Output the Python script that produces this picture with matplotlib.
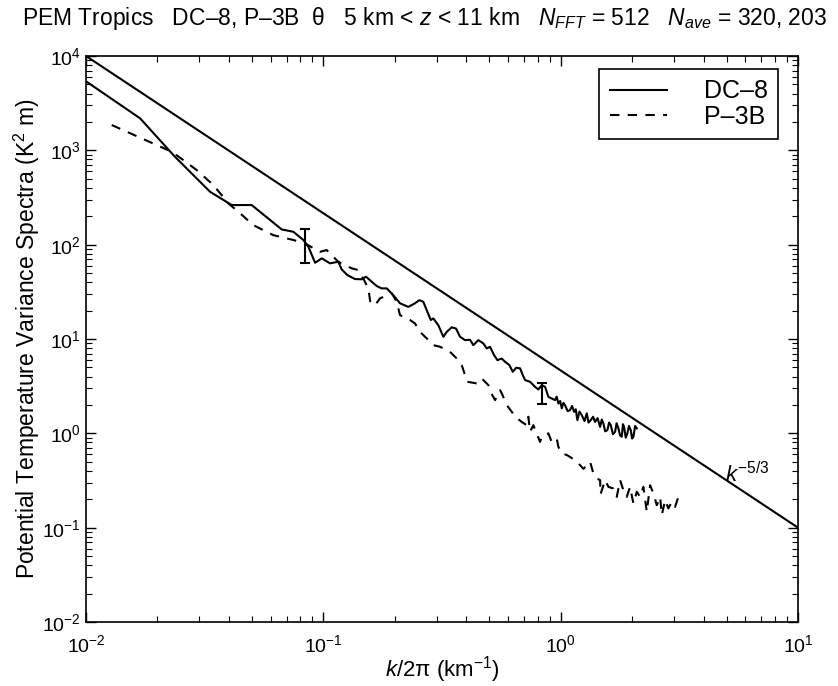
import matplotlib
matplotlib.use("Agg")
import matplotlib.pyplot as plt
import numpy as np

plt.rcParams['font.family'] = ['Liberation Sans', 'DejaVu Sans']
plt.rcParams['mathtext.fontset'] = 'custom'
plt.rcParams['mathtext.rm'] = 'Liberation Sans'
plt.rcParams['mathtext.it'] = 'Liberation Sans:italic'
plt.rcParams['mathtext.bf'] = 'Liberation Sans:bold'

# DC-8 spectrum
dc8_k = [0.0101, 0.0169, 0.0237, 0.0333, 0.0411, 0.0499, 0.0668, 0.0748, 0.0824, 0.0865,
         0.0923, 0.0985, 0.1066, 0.1156, 0.1195, 0.1262, 0.136, 0.1452, 0.1514, 0.160,
         0.168, 0.176, 0.185, 0.197, 0.2104, 0.228, 0.2433, 0.2538, 0.2638, 0.2744,
         0.2836, 0.2908, 0.3052, 0.3204, 0.3311, 0.3476, 0.3624, 0.3768, 0.3955, 0.415,
         0.4286, 0.4499, 0.4723, 0.4882, 0.504, 0.524, 0.5413, 0.5648, 0.5831, 0.6079,
         0.6284, 0.6488, 0.6745, 0.6923, 0.708, 0.743, 0.78, 0.805, 0.8325, 0.86,
         0.8875, 0.917, 0.947, 0.962, 0.978, 0.995, 1.011, 1.027, 1.043, 1.07,
         1.095, 1.117, 1.139, 1.158, 1.176, 1.2, 1.227, 1.26, 1.288, 1.31,
         1.339, 1.37, 1.396, 1.43, 1.466, 1.49, 1.514, 1.54, 1.573, 1.6,
         1.626, 1.66, 1.696, 1.72, 1.751, 1.78, 1.809, 1.83, 1.85, 1.88,
         1.91, 1.94, 1.974, 2.0, 2.025, 2.06, 2.093]
dc8_spec = [5300, 2185, 855, 364, 263, 263, 145, 137, 112, 95,
            64.3, 71.6, 63.4, 65.9, 54.7, 47.6, 43.2, 43.0, 45.7, 40.4,
            36.4, 34.4, 34.4, 29.2, 23.9, 21.9, 23.9, 25.8, 24.8, 19.4,
            15.9, 16.5, 14.0, 10.55, 11.9, 13.3, 12.9, 10.55, 9.73, 9.8,
            8.6, 9.73, 8.98, 7.95, 8.25, 6.75, 5.97, 6.2, 5.73, 5.29,
            4.49, 4.95, 4.89, 4.14, 3.67, 3.52, 3.11, 2.92, 3.24, 3.11,
            2.44, 2.34, 2.25, 2.45, 2.07, 2.2, 1.84, 2.1, 1.99, 1.72,
            1.76, 1.95, 1.69, 1.8, 1.38, 1.7, 1.56, 1.35, 1.63, 1.3,
            1.38, 1.5, 1.32, 1.45, 1.17, 1.4, 1.27, 1.05, 1.08, 1.3,
            1.22, 0.98, 1.04, 1.28, 1.13, 0.95, 0.92, 1.25, 1.17, 0.9,
            1.0, 1.2, 1.08, 0.88, 0.92, 1.2, 1.13]

# P-3B spectrum
p3b_k = [0.01283, 0.02297, 0.0257, 0.02926, 0.0344, 0.0398, 0.0446, 0.0507, 0.0616, 0.0748,
         0.0837, 0.0969, 0.1033, 0.1156, 0.1317, 0.1404, 0.1484, 0.1547, 0.158, 0.1652,
         0.1734, 0.1942, 0.2038, 0.2104, 0.2319, 0.2433, 0.2555, 0.2683, 0.2908, 0.3103,
         0.3418, 0.353, 0.3705, 0.3829, 0.3955, 0.4044, 0.443, 0.465, 0.4802, 0.4958,
         0.5126, 0.5293, 0.5555, 0.5648, 0.5929, 0.6222, 0.6425, 0.6858, 0.7196, 0.731,
         0.743, 0.767, 0.819, 0.8325, 0.8875, 0.917, 0.963, 0.978, 1.011, 1.061,
         1.15, 1.207, 1.247, 1.288, 1.33, 1.373, 1.419, 1.466, 1.472, 1.539,
         1.589, 1.668, 1.723, 1.78, 1.837, 1.899, 1.961, 2.025, 2.093, 2.161,
         2.231, 2.306, 2.381, 2.459, 2.541, 2.624, 2.668, 2.754, 2.844, 2.939,
         3.034, 3.133]
p3b_spec = [1855, 966, 789, 618, 429, 274, 215, 161, 126, 112,
            103, 84, 87.7, 65.9, 56.1, 53.8, 42.2, 34.4, 24.0, 22.9,
            27.0, 30.5, 24.8, 17.9, 15.9, 14.6, 11.9, 10.55, 8.6, 8.27,
            7.32, 6.75, 5.97, 5.29, 4.14, 3.52, 3.38, 3.82, 3.52, 3.24,
            2.60, 2.25, 2.87, 2.65, 1.99, 1.69, 1.50, 1.32, 1.22, 1.50,
            1.04, 1.22, 0.81, 0.92, 1.0, 0.81, 0.88, 0.72, 0.61, 0.59,
            0.52, 0.46, 0.42, 0.46, 0.50, 0.376, 0.333, 0.319, 0.226, 0.319,
            0.271, 0.26, 0.212, 0.319, 0.25, 0.212, 0.271, 0.18, 0.24, 0.212,
            0.271, 0.147, 0.282, 0.23, 0.173, 0.212, 0.136, 0.196, 0.16, 0.188,
            0.166, 0.212]

# k^-5/3 reference line end points
ref_k = [0.01, 10.0]
ref_spec = [1.0e4, 1.0e-1]

# error bars (DC-8)
err_k = [0.0837, 0.8325]
err_mid = [97.0, 2.65]
err_low = [64.3, 2.07]
err_high = [145.0, 3.38]

fig = plt.figure(figsize=(8.38, 6.86), dpi=100)
ax = fig.add_axes([86/838, 1 - 622/686, (798 - 86)/838, (622 - 56)/686])

ax.loglog(ref_k, ref_spec, color='k', lw=1.5)
ax.loglog(dc8_k, dc8_spec, color='k', lw=1.5, label='DC\u20138')
ax.loglog(p3b_k, p3b_spec, color='k', lw=1.5, dashes=(4.5, 4), label='P\u20133B')

mid = np.array(err_mid)
yerr = [mid - np.array(err_low), np.array(err_high) - mid]
ax.errorbar(err_k, err_mid, yerr=yerr, fmt='none', ecolor='k', elinewidth=1.5,
            capsize=3.6, capthick=1.5)

ax.text(4.93, 0.304, r'$k^{-5/3}$', fontsize=16, va='baseline', ha='left')

ax.set_xlim(1e-2, 1e1)
ax.set_ylim(1e-2, 1e4)
ax.tick_params(which='both', direction='in', top=True, right=True, labelsize=14)
ax.tick_params(which='major', length=7, width=1)
ax.tick_params(which='minor', length=4, width=0.8)
ax.tick_params(axis='x', which='major', pad=9)
for s in ax.spines.values():
    s.set_linewidth(1.2)

ax.set_xlabel(r'$k$/2π (km$^{-1}$)', fontsize=16, labelpad=-2)
ax.set_ylabel(r'Potential Temperature Variance Spectra (K$^2$ m)', fontsize=16.5, labelpad=0)

leg = ax.legend(loc='upper right', bbox_to_anchor=((778 - 86)/712, (622 - 69)/566),
                borderaxespad=0, fontsize=18, frameon=True, fancybox=False,
                edgecolor='k', framealpha=1, handlelength=2.3, handletextpad=1.45,
                labelspacing=0.05, borderpad=0.42)
leg.get_frame().set_linewidth(1.2)

fig.text(22/838, 1 - 18/686,
         r'PEM Tropics   DC–8, P–3B  θ   5 km < $z$ < 11 km   $N_{FFT}$ = 512   $N_{ave}$ = 320, 203',
         fontsize=16.5, ha='left', va='center')

fig.savefig('out.png', dpi=100)
